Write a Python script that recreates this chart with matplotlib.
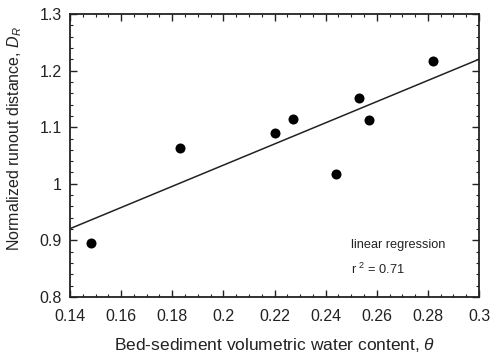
import matplotlib
matplotlib.use("Agg")
import matplotlib.pyplot as plt
from matplotlib.ticker import MultipleLocator, FuncFormatter

plt.rcParams['font.family'] = ['Liberation Sans', 'DejaVu Sans']
plt.rcParams['mathtext.fontset'] = 'custom'
plt.rcParams['mathtext.it'] = 'Liberation Sans:italic'
plt.rcParams['mathtext.rm'] = 'Liberation Sans'

water_content = [0.1481, 0.183, 0.2201, 0.2271, 0.2441, 0.2531, 0.2571, 0.2821]
runout = [0.8954, 1.0627, 1.089, 1.115, 1.0173, 1.1516, 1.112, 1.217]
reg_x = [0.14, 0.30]
reg_y = [0.9207, 1.220]
x_ticks = [0.14, 0.16, 0.18, 0.2, 0.22, 0.24, 0.26, 0.28, 0.3]
y_ticks = [0.8, 0.9, 1.0, 1.1, 1.2, 1.3]

fig = plt.figure(figsize=(4.92, 3.55), dpi=100)
ax = fig.add_axes([0.1423, 0.1634, 0.8313, 0.7972])

ax.plot(reg_x, reg_y, color='#222222', lw=1.1)
ax.scatter(water_content, runout, s=52, color='black', zorder=3, linewidths=0)

ax.set_xlim(0.14, 0.3)
ax.set_ylim(0.8, 1.3)
ax.set_xticks(x_ticks)
ax.set_yticks(y_ticks)
fmt = FuncFormatter(lambda v, p: f"{v:g}")
ax.xaxis.set_major_formatter(fmt)
ax.yaxis.set_major_formatter(fmt)
ax.xaxis.set_minor_locator(MultipleLocator(0.005))
ax.yaxis.set_minor_locator(MultipleLocator(0.02))
ax.tick_params(which='both', direction='in', top=True, right=True, labelsize=11.5, colors='#222222')
ax.tick_params(which='major', length=5, width=1)
ax.tick_params(which='minor', length=2.5, width=0.8)
ax.tick_params(axis='x', which='major', pad=9)
ax.tick_params(axis='y', which='major', pad=6)
for s in ax.spines.values():
    s.set_linewidth(1.3)
    s.set_color('#222222')

ax.set_xlabel(r'Bed-sediment volumetric water content, $\theta$', fontsize=12.5, color='#222222')
ax.set_ylabel(r'Normalized runout distance, $D_R$', fontsize=11.5, color='#222222')
ax.xaxis.set_label_coords(0.5, -0.138)
ax.yaxis.set_label_coords(-0.112, 0.56)

ax.text(0.2499, 0.892, 'linear regression', fontsize=9.2, color='#222222', va='center', ha='left')
ax.text(0.2499, 0.849, r'r $^{2}$ = 0.71', fontsize=9.2, color='#222222', va='center', ha='left')

fig.savefig('out.png', dpi=100)
